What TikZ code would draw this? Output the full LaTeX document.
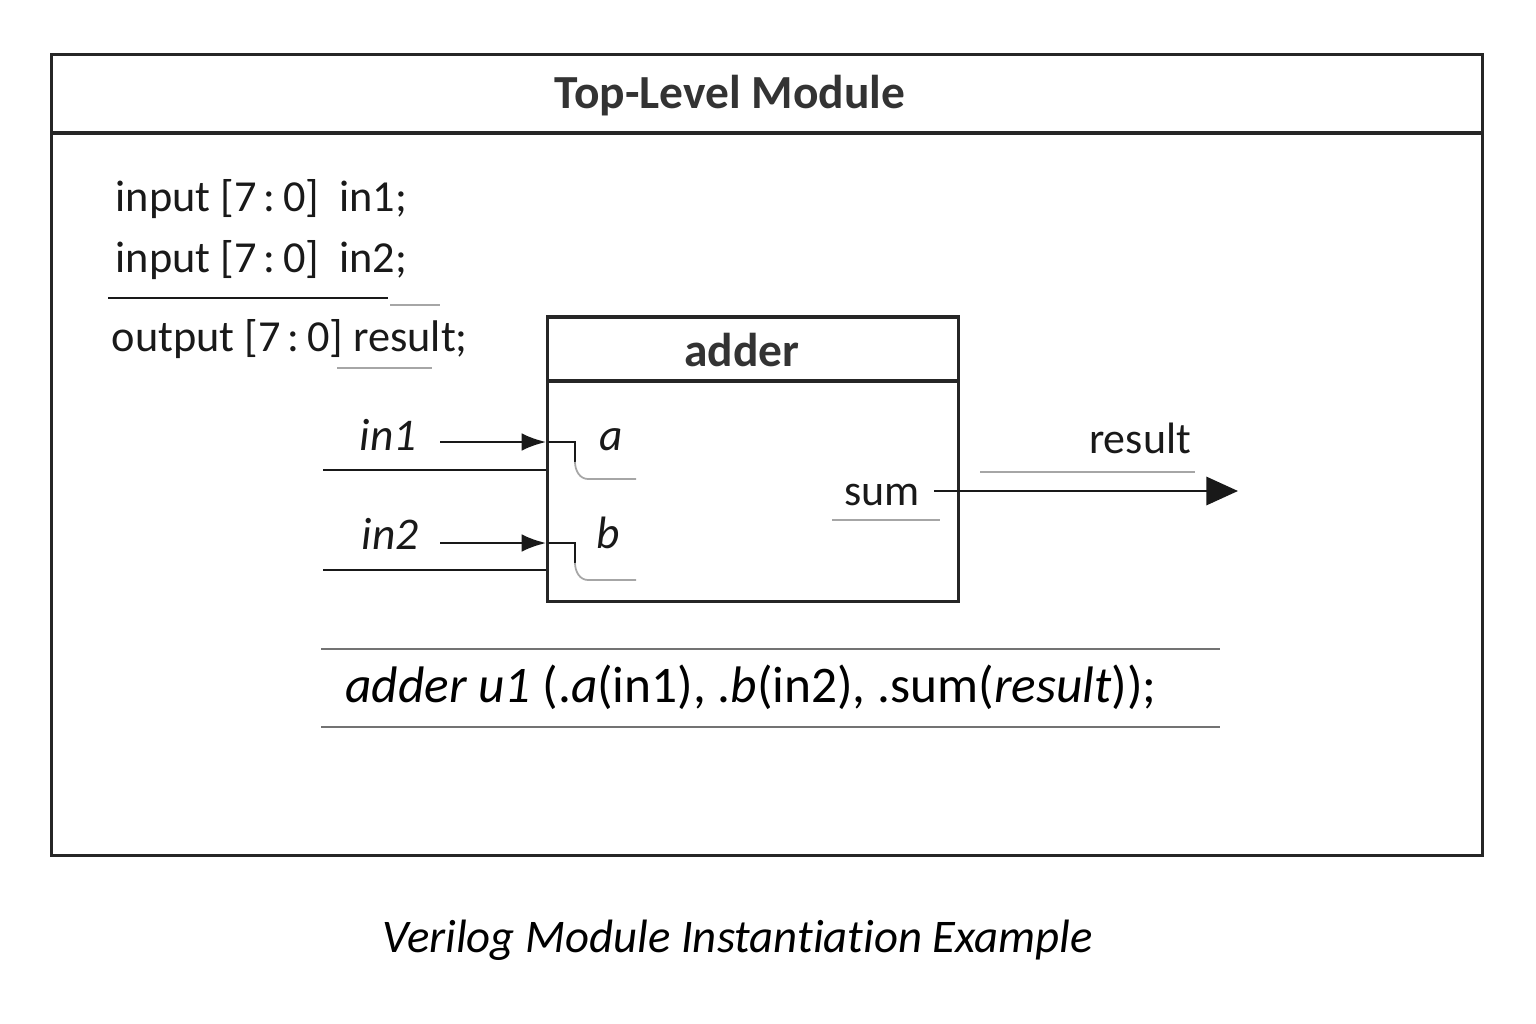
\documentclass[tikz,border=0pt]{standalone}
\usepackage{fontspec}
\setmainfont{Carlito}[Ligatures=NoCommon]
\usetikzlibrary{arrows.meta}

\begin{document}
\begin{tikzpicture}[x=0.01cm, y=-0.01cm,
        font=\fontsize{12.6}{15}\selectfont,
        frame/.style={draw=black!85, line width=0.9pt},
        head/.style={font=\fontsize{13.5}{16}\selectfont\bfseries, text=black!80, anchor=base},
        wire/.style={draw=black!90, line width=0.8pt},
        faint/.style={draw=black!35, line width=0.5pt},
        code/.style={anchor=base west, inner sep=0pt, text=black!90},
        port/.style={font=\fontsize{12.9}{15}\selectfont\itshape, anchor=base, text=black!90},
        label/.style={font=\fontsize{12.5}{15}\selectfont, anchor=base, text=black!90},
        arr/.style={-{Latex[length=7pt, width=5pt]}, wire},
        bigarr/.style={-{Triangle[length=9pt, width=8pt]}, wire}]
      \useasboundingbox (0,0) rectangle (1536,1024);
      % Module principal
      \node[frame, minimum width=14.3cm, minimum height=8cm, inner sep=0pt]
            (top) at (767,455) {};
      \draw[frame] (top.west |- 0,133) -- (top.east |- 0,133);
      \node[head] (toptitle) at (730,108) {Top-Level Module};
      % Declarations
      \node[code] (decl1) at (115,211) {input [7\,:\,0]\ \ in1;};
      \node[code] (decl2) at (115,272) {input [7\,:\,0]\ \ in2;};
      \node[code] (decl3) at (111,351) {output [7\,:\,0] result;};
      \draw[wire] (108,298) -- (388,298);
      \draw[faint] (390,305) -- (440,305);
      \draw[faint] (337,368) -- (432,368);
      % Instance adder
      \node[frame, minimum width=4.1cm, minimum height=2.84cm, inner sep=0pt]
            (adder) at (753,459) {};
      \draw[frame] (adder.west |- 0,381) -- (adder.east |- 0,381);
      \node[head] (addertitle) at (742,366) {adder};
      % Entrees
      \node[port] (in1) at (388,450) {in1};
      \node[port] (in2) at (390,549) {in2};
      \node[port] (pa) at (611,450) {a};
      \node[port] (pb) at (608,548) {b};
      \coordinate (in1tail) at (440,442);
      \coordinate (in2tail) at (440,543);
      \coordinate (in1bus) at (323,470);
      \coordinate (in2bus) at (323,570);
      \draw[arr] (in1tail) -- (in1tail -| adder.west);
      \draw[arr] (in2tail) -- (in2tail -| adder.west);
      \draw[wire] (in1bus) -- (in1bus -| adder.west);
      \draw[wire] (in2bus) -- (in2bus -| adder.west);
      % Crochets a / b
      \foreach \y in {442,543} {
        \draw[wire] (548,\y) -- (575,\y) -- (575,\y+20);
        \draw[faint] (575,\y+20) to[out=-90, in=180] (588,\y+37) -- (636,\y+37);
      }
      % Sortie
      \node[label] (sum) at (882,505) {sum};
      \node[label] (result) at (1140,453) {result};
      \coordinate (sumtail) at (934,491);
      \coordinate (resulthead) at (1238,491);
      \draw[bigarr] (sumtail) -- (resulthead);
      \draw[faint] (832,520) -- (940,520);
      \draw[faint] (980,472) -- (1195,472);
      % Instanciation
      \draw[faint, draw=black!55] (321,649) -- (1220,649);
      \draw[faint, draw=black!55] (321,727) -- (1220,727);
      \node[anchor=base, font=\fontsize{14.6}{18}\selectfont] (inst) at (751,702)
            {\textit{adder u1} (.\textit{a}(in1), .\textit{b}(in2), .sum(\textit{result}));};
      % Legende
      \node[anchor=base, font=\fontsize{13.3}{17}\selectfont\itshape] (caption) at (738,952)
            {Verilog Module Instantiation Example};
\end{tikzpicture}
\end{document}
